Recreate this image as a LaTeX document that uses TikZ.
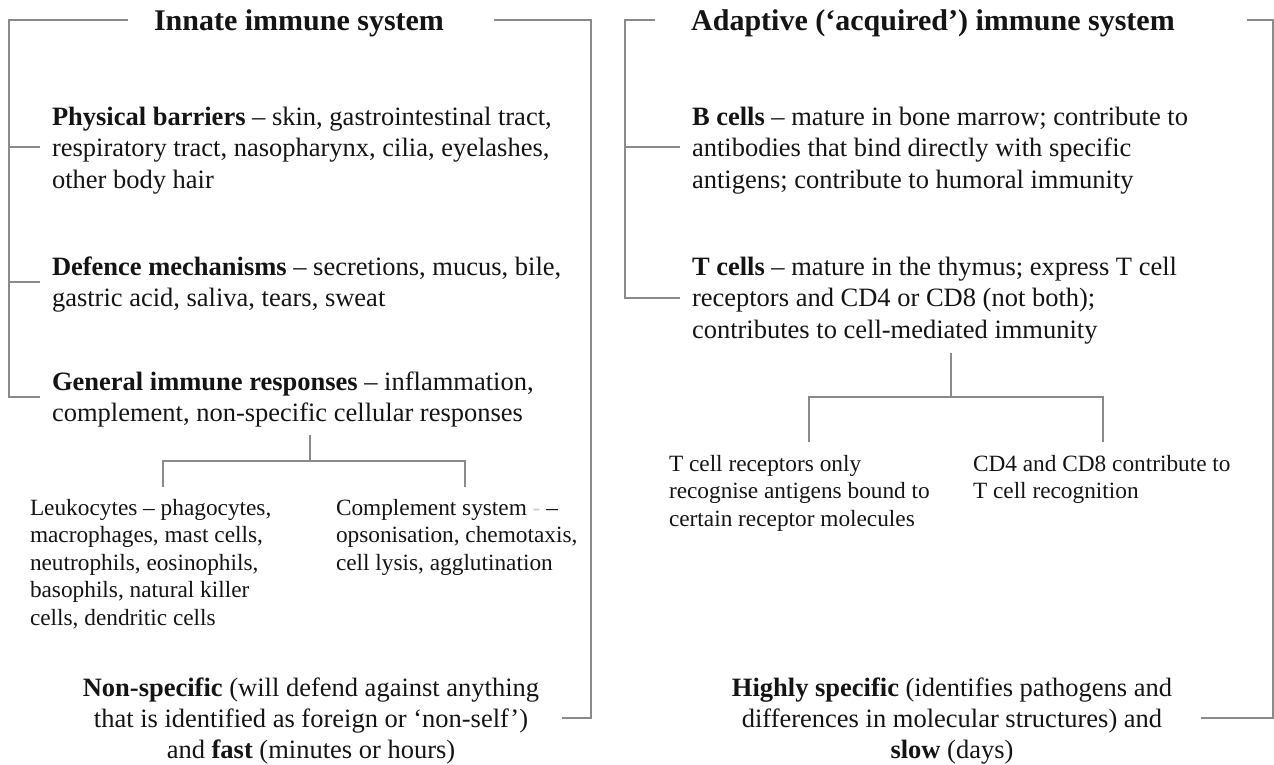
\documentclass[tikz,border=0pt]{standalone}
\usepackage{fontspec}
\setmainfont{Liberation Serif}
\definecolor{linegray}{HTML}{8A8A8A}
\definecolor{inkc}{HTML}{141414}
\newcommand{\mytopstrut}{\rule{0pt}{20pt}}
\begin{document}
\begin{tikzpicture}[x=1pt,y=-1pt,
  every node/.style={inner sep=0pt, outer sep=0pt, text=inkc},
  ttl/.style={font={\fontsize{30}{34}\selectfont\bfseries}, anchor=base},
  body/.style={font={\fontsize{26.5}{31.5}\selectfont}, align=left, anchor=north west},
  small/.style={font={\fontsize{23.3}{27.5}\selectfont}, align=left, anchor=north west},
  summ/.style={font={\fontsize{26.5}{31}\selectfont}, align=center, anchor=north},
  conn/.style={draw=linegray, line width=1.4pt}
]
\useasboundingbox (0,0) rectangle (1274,765);

% ---------------- Left panel ----------------
\node[ttl] (t1) at (299,31) {Innate immune system};
\node[body] (pb) at (52,105) {\mytopstrut\textbf{Physical barriers} – skin, gastrointestinal tract,\\ respiratory tract, nasopharynx, cilia, eyelashes,\\ other body hair};
\node[body] (dm) at (52,255) {\mytopstrut\textbf{Defence mechanisms} – secretions, mucus, bile,\\ gastric acid, saliva, tears, sweat};
\node[body] (gr) at (52,370) {\mytopstrut\textbf{General immune responses} – inflammation,\\ complement, non-specific cellular responses};
\node[small] (lk) at (30,495) {\mytopstrut Leukocytes – phagocytes,\\ macrophages, mast cells,\\ neutrophils, eosinophils,\\ basophils, natural killer\\ cells, dendritic cells};
\node[small] (cs) at (336,495) {\mytopstrut Complement system {\color{gray!40}-} –\\ opsonisation, chemotaxis,\\ cell lysis, agglutination};
\node[summ] (ns) at (311,676) {\mytopstrut\textbf{Non-specific} (will defend against anything\\ that is identified as foreign or ‘non-self’)\\ and \textbf{fast} (minutes or hours)};

\coordinate (L1a) at (128,20);
\coordinate (L1b) at (9,20);
\coordinate (L1c) at (9,397);
\coordinate (L1d) at (40,397);
\coordinate (Lpb) at (40,147);
\coordinate (Ldm) at (40,282);
\draw[conn] (L1a) -- (L1b) -- (L1c) -- (L1d);
\draw[conn] (Lpb) -- (Lpb -| L1b);
\draw[conn] (Ldm) -- (Ldm -| L1b);

\coordinate (R1a) at (494,20);
\coordinate (R1b) at (591,20);
\coordinate (R1c) at (591,718);
\coordinate (R1d) at (562,718);
\draw[conn] (R1a) -- (R1b) -- (R1c) -- (R1d);

\coordinate (gtop) at (310,435);
\coordinate (gmid) at (310,461);
\coordinate (lkt) at (163,487);
\coordinate (cst) at (465,487);
\draw[conn] (gtop) -- (gmid);
\draw[conn] (lkt) -- (lkt |- gmid) -- (cst |- gmid) -- (cst);

% ---------------- Right panel ----------------
\node[ttl] (t2) at (933,31) {Adaptive (‘acquired’) immune system};
\node[body] (bc) at (692,105) {\mytopstrut\textbf{B cells} – mature in bone marrow; contribute to\\ antibodies that bind directly with specific\\ antigens; contribute to humoral immunity};
\node[body] (tc) at (692,255) {\mytopstrut\textbf{T cells} – mature in the thymus; express T cell\\ receptors and CD4 or CD8 (not both);\\ contributes to cell-mediated immunity};
\node[small] (tr) at (669,451) {\mytopstrut T cell receptors only\\ recognise antigens bound to\\ certain receptor molecules};
\node[small] (cd) at (973,451) {\mytopstrut CD4 and CD8 contribute to\\ T cell recognition};
\node[summ] (hs) at (952,676) {\mytopstrut\textbf{Highly specific} (identifies pathogens and\\ differences in molecular structures) and\\ \textbf{slow} (days)};

\coordinate (L2a) at (655,20);
\coordinate (L2b) at (625,20);
\coordinate (L2c) at (625,298);
\coordinate (L2d) at (680,298);
\coordinate (Lbc) at (680,147);
\draw[conn] (L2a) -- (L2b) -- (L2c) -- (L2d);
\draw[conn] (Lbc) -- (Lbc -| L2b);

\coordinate (R2a) at (1247,20);
\coordinate (R2b) at (1273,20);
\coordinate (R2c) at (1273,718);
\coordinate (R2d) at (1201,718);
\draw[conn] (R2a) -- (R2b) -- (R2c) -- (R2d);

\coordinate (ttop) at (951,353);
\coordinate (tmid) at (951,397);
\coordinate (trt) at (809,442);
\coordinate (cdt) at (1103,442);
\draw[conn] (ttop) -- (tmid);
\draw[conn] (trt) -- (trt |- tmid) -- (cdt |- tmid) -- (cdt);
\end{tikzpicture}
\end{document}
